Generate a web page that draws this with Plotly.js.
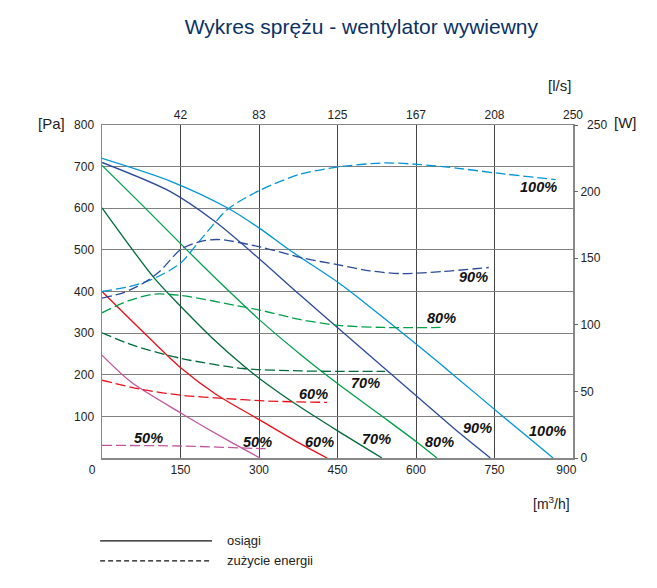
<!DOCTYPE html>
<html>
<head>
<meta charset="utf-8">
<script src="https://cdn.plot.ly/plotly-3.0.1.min.js"></script>
<style>html,body{margin:0;padding:0;background:#fff;}#chart{width:657px;height:588px;}</style>
</head>
<body>
<div id="chart"></div>
<script>
// ---- Data: performance curves (pressure [Pa] vs flow [m3/h]) ----
const flow100 = [0, 129, 241, 302, 359, 452, 512, 602, 675, 765, 862];
const pa100   = [720, 666, 600, 551, 499, 421, 363, 272, 196, 101, 0];
const flow90  = [0, 129, 216, 302, 378, 452, 602, 685, 742];
const pa90    = [710, 641, 568, 477, 392, 311, 148, 58, 0];
const flow80  = [0, 75, 150, 225, 300, 378, 452, 530, 602, 640];
const pa80    = [703, 610, 515, 422, 333, 250, 177, 105, 38, 0];
const flow70  = [0, 100, 152, 210, 270, 302, 378, 452, 535];
const pa70    = [601, 432, 362, 289, 222, 190, 123, 64, 0];
const flow60  = [0, 85, 152, 219, 302, 378, 430];
const pa60    = [400, 295, 215, 152, 91, 35, 0];
const flow50  = [0, 55, 152, 238, 302];
const pa50    = [247, 183, 107, 44, 0];

// ---- Data: power consumption curves (power [W] vs flow [m3/h]) ----
const pflow100 = [0, 50, 91, 130, 152, 193, 241, 302, 378, 452, 538, 602, 680, 752, 867];
const w100     = [125, 128.5, 133.4, 141, 147, 166, 187, 201, 213, 218.5, 221.5, 220.5, 217.5, 214, 209];
const pflow90  = [0, 40, 78, 110, 152, 193, 225, 302, 385, 452, 512, 570, 650, 739];
const w90      = [120, 124, 131, 140, 157, 163, 164, 158.5, 150, 145, 140.5, 138.5, 140, 143];
const pflow80  = [0, 50, 100, 152, 270, 302, 378, 452, 538, 647];
const w80      = [109, 118, 123, 122, 113.4, 111, 104, 99.6, 98, 98];
const pflow70  = [0, 59, 152, 270, 378, 452, 541];
const w70      = [94, 84.7, 74.7, 67.2, 65.4, 65, 65];
const pflow60  = [0, 78, 152, 238, 302, 378, 430];
const w60      = [58.4, 51.3, 47.1, 44.6, 43, 42.1, 41.8];
const pflow50  = [0, 152, 302, 318];
const w50      = [9.5, 9.0, 7.1, 7.0];

// ---- Tick labels ----
const flowTicks = [0, 150, 300, 450, 600, 750, 900];
const flowTickText = ['0\u00a0\u00a0\u00a0\u00a0\u00a0\u00a0', '150', '300', '450', '600', '750', '900\u00a0\u00a0\u00a0\u00a0'];
const lsTicks = [150, 300, 450, 600, 750, 900];
const lsTickText = ['42', '83', '125', '167', '208', '250'];
const paTicks = [100, 200, 300, 400, 500, 600, 700, 800];
const wTicks = [0, 50, 100, 150, 200, 250];
const wTickText = ['0', '50', '100', '150', '200', '\u00a0\u00a0250'];

// ---- Curve labels ----
const perfLabels = ['50%', '60%', '70%', '80%', '90%', '100%'];
const perfLabelX = [297, 415, 524, 645, 717, 851];
const perfLabelY = [38, 38, 45, 38, 73, 64];
const powLabels = ['50%', '60%', '70%', '80%', '90%', '100%'];
const powLabelX = [88, 404, 503, 648, 709, 835];
const powLabelY = [49, 153, 179, 337, 434, 650];

const colors = {p100:'#0096d6', p90:'#2c4a9a', p80:'#00a04b', p70:'#006b3a', p60:'#e8121c', p50:'#c2569c'};
const FONT = 'Liberation Sans, Arial, sans-serif';

function perf(x, y, c){
  return {x:x, y:y, type:'scatter', mode:'lines', xaxis:'x', yaxis:'y',
    line:{color:c, width:1.3, shape:'spline', smoothing:0.8}, hoverinfo:'skip', showlegend:false};
}
function pow(x, y, c){
  return {x:x, y:y, type:'scatter', mode:'lines', xaxis:'x2', yaxis:'y2',
    line:{color:c, width:1.3, dash:'10px,4px', shape:'spline', smoothing:0.8}, hoverinfo:'skip', showlegend:false};
}

const data = [
  perf(flow100, pa100, colors.p100), perf(flow90, pa90, colors.p90), perf(flow80, pa80, colors.p80),
  perf(flow70, pa70, colors.p70), perf(flow60, pa60, colors.p60), perf(flow50, pa50, colors.p50),
  pow(pflow100, w100, colors.p100), pow(pflow90, w90, colors.p90), pow(pflow80, w80, colors.p80),
  pow(pflow70, w70, colors.p70), pow(pflow60, w60, colors.p60), pow(pflow50, w50, colors.p50)
];

const annotations = [];
const labFont = {family: FONT, size: 14.5, color: '#111'};
perfLabels.forEach((t,i)=>annotations.push({x:perfLabelX[i], y:perfLabelY[i], xref:'x', yref:'y',
  text:'<b><i>'+t+'</i></b>', showarrow:false, font:labFont, xanchor:'center', yanchor:'middle'}));
powLabels.forEach((t,i)=>annotations.push({x:powLabelX[i], y:powLabelY[i], xref:'x', yref:'y',
  text:'<b><i>'+t+'</i></b>', showarrow:false, font:labFont, xanchor:'center', yanchor:'middle'}));

const unitFont = {family: FONT, size: 15, color: '#222'};
annotations.push({x:-0.108, y:1.006, xref:'paper', yref:'paper', text:'[Pa]', showarrow:false, font:unitFont, xanchor:'center', yanchor:'middle'});
annotations.push({x:1.112, y:1.009, xref:'paper', yref:'paper', text:'[W]', showarrow:false, font:unitFont, xanchor:'center', yanchor:'middle'});
annotations.push({x:0.972, y:1.120, xref:'paper', yref:'paper', text:'[l/s]', showarrow:false, font:unitFont, xanchor:'center', yanchor:'middle'});
annotations.push({x:0.955, y:-0.135, xref:'paper', yref:'paper', text:'[m<sup>3</sup>/h]', showarrow:false, font:{family:FONT, size:14, color:'#222'}, xanchor:'center', yanchor:'middle'});
// legend texts
annotations.push({x:0.261, y:-0.249, xref:'paper', yref:'paper', text:'osiągi', showarrow:false, font:{family:FONT, size:13, color:'#222'}, xanchor:'left', yanchor:'middle'});
annotations.push({x:0.261, y:-0.309, xref:'paper', yref:'paper', text:'zużycie energii', showarrow:false, font:{family:FONT, size:13, color:'#222'}, xanchor:'left', yanchor:'middle'});

const shapes = [
  {type:'line', xref:'paper', yref:'paper', x0:-0.004, x1:0.2335, y0:-0.249, y1:-0.249, line:{color:'#111', width:1.2}},
  {type:'line', xref:'paper', yref:'paper', x0:-0.004, x1:0.2335, y0:-0.309, y1:-0.309, line:{color:'#111', width:1.2, dash:'5px,3px'}}
];

const tickFont = {family: FONT, size: 12, color: '#222'};
const layout = {
  width: 657, height: 588,
  margin: {l:102, r:84, t:125, b:130, pad:0},
  paper_bgcolor:'#fff', plot_bgcolor:'#fff',
  showlegend:false,
  title: {text:'Wykres sprężu - wentylator wywiewny', font:{family:FONT, size:21, color:'#0b3265'},
          x:0.55, xanchor:'center', y:0.954, yanchor:'middle'},
  xaxis: {range:[0,900], tickvals:flowTicks, ticktext:flowTickText, ticks:'', showgrid:true,
          gridcolor:'#444', gridwidth:1, showline:true, linecolor:'#888', linewidth:1.5, mirror:true,
          zeroline:false, tickfont:tickFont, fixedrange:true},
  yaxis: {range:[0,800], tickvals:paTicks, ticks:'', showgrid:true, gridcolor:'#808080', gridwidth:1.2,
          showline:true, linecolor:'#888', linewidth:1.5, mirror:true, zeroline:false, tickfont:tickFont,
          ticklabelstandoff:4, fixedrange:true},
  xaxis2: {range:[0,900], overlaying:'x', side:'top', tickvals:lsTicks, ticktext:lsTickText, ticks:'',
           showgrid:false, showline:false, zeroline:false, tickfont:tickFont, ticklabelstandoff:3, fixedrange:true},
  yaxis2: {range:[0,250], overlaying:'y', side:'right', tickvals:wTicks, ticktext:wTickText, ticks:'outside', ticklen:4,
           tickcolor:'#666', tickwidth:1, showgrid:false, showline:false, zeroline:false, tickfont:tickFont, fixedrange:true},
  annotations: annotations,
  shapes: shapes
};

Plotly.newPlot('chart', data, layout, {staticPlot:true, displayModeBar:false});
</script>
</body>
</html>
